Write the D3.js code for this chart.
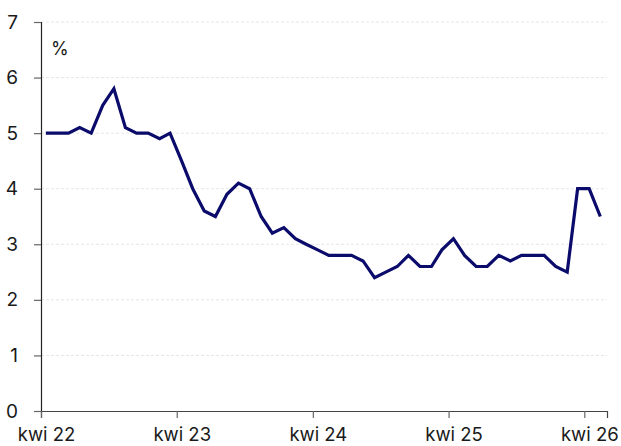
<!DOCTYPE html>
<html>
<head>
<meta charset="utf-8">
<script src="https://cdn.jsdelivr.net/npm/d3@7"></script>
<style>
  html, body { margin: 0; padding: 0; background: #fff; }
  svg { display: block; font-family: "Inter", "Liberation Sans", sans-serif; }
</style>
</head>
<body>
<svg id="chart" width="621" height="446"></svg>
<script>
// Monthly values from Apr 2022 to May 2026
const startYear = 2022;
const startMonth = 3; // April (0-based)
const values = [
  5.0, 5.0, 5.0, 5.1, 5.0, 5.5, 5.8, 5.1, 5.0,            // Apr-Dec 2022
  5.0, 4.9, 5.0, 4.5, 4.0, 3.6, 3.5, 3.9, 4.1, 4.0, 3.5, 3.2, // 2023
  3.3, 3.1, 3.0, 2.9, 2.8, 2.8, 2.8, 2.7, 2.4, 2.5, 2.6, 2.8, // 2024
  2.6, 2.6, 2.9, 3.1, 2.8, 2.6, 2.6, 2.8, 2.7, 2.8, 2.8, 2.8, // 2025
  2.6, 2.5, 4.0, 4.0, 3.5                                   // Jan-May 2026
];
const tickYears = [2022, 2023, 2024, 2025, 2026];
const tickLabels = ["kwi 22", "kwi 23", "kwi 24", "kwi 25", "kwi 26"];
const yTicks = [0, 1, 2, 3, 4, 5, 6, 7];
const unitLabel = "%";

const data = values.map((v, i) => ({ date: new Date(startYear, startMonth + i, 14), value: v }));

const svg = d3.select("#chart");
const mLeft = 41, mRight = 607, mTop = 22, mBottom = 411;

const x = d3.scaleTime()
  .domain([new Date(2022, 3, 1), new Date(2026, 5, 1)])
  .range([mLeft, mRight]);
const y = d3.scaleLinear().domain([0, 7]).range([mBottom, mTop]);

// gridlines
svg.append("g")
  .selectAll("line")
  .data(yTicks.filter(d => d > 0))
  .join("line")
  .attr("x1", mLeft).attr("x2", mRight)
  .attr("y1", d => y(d)).attr("y2", d => y(d))
  .attr("stroke", "#e6e6e6")
  .attr("stroke-width", 1)
  .attr("stroke-dasharray", "3,2");

// y axis
const yAxis = svg.append("g")
  .attr("transform", `translate(${mLeft},0)`)
  .call(d3.axisLeft(y).tickValues(yTicks).tickFormat(d3.format("d")).tickSize(7).tickPadding(16));
yAxis.select(".domain").attr("stroke", "#222").attr("stroke-width", 1.2);
yAxis.selectAll(".tick line").attr("stroke", "#666").attr("stroke-width", 1.2);
yAxis.selectAll(".tick text").attr("font-size", 19).attr("fill", "#1a1a1a")
  .attr("font-family", "Inter, sans-serif");

// x axis
const tickDates = tickYears.map(yy => new Date(yy, 3, 1));
const xAxis = svg.append("g")
  .attr("transform", `translate(0,${mBottom})`)
  .call(d3.axisBottom(x).tickValues(tickDates).tickFormat((d, i) => tickLabels[i]).tickSize(7).tickPadding(10));
xAxis.select(".domain").attr("stroke", "#444").attr("stroke-width", 1.2);
xAxis.selectAll(".tick line").attr("stroke", "#666").attr("stroke-width", 1.2);
xAxis.selectAll(".tick text").attr("font-size", 18.5).attr("fill", "#1a1a1a")
  .attr("dx", 5).attr("font-family", "Inter, sans-serif");

// unit label
svg.append("text")
  .attr("x", 51).attr("y", 55)
  .attr("font-size", 18)
  .attr("fill", "#1a1a1a")
  .text(unitLabel);

// line
svg.append("path")
  .datum(data)
  .attr("fill", "none")
  .attr("stroke", "#0b0b6b")
  .attr("stroke-width", 3.2)
  .attr("stroke-linejoin", "miter")
  .attr("d", d3.line().x(d => x(d.date)).y(d => y(d.value)));
</script>
</body>
</html>
